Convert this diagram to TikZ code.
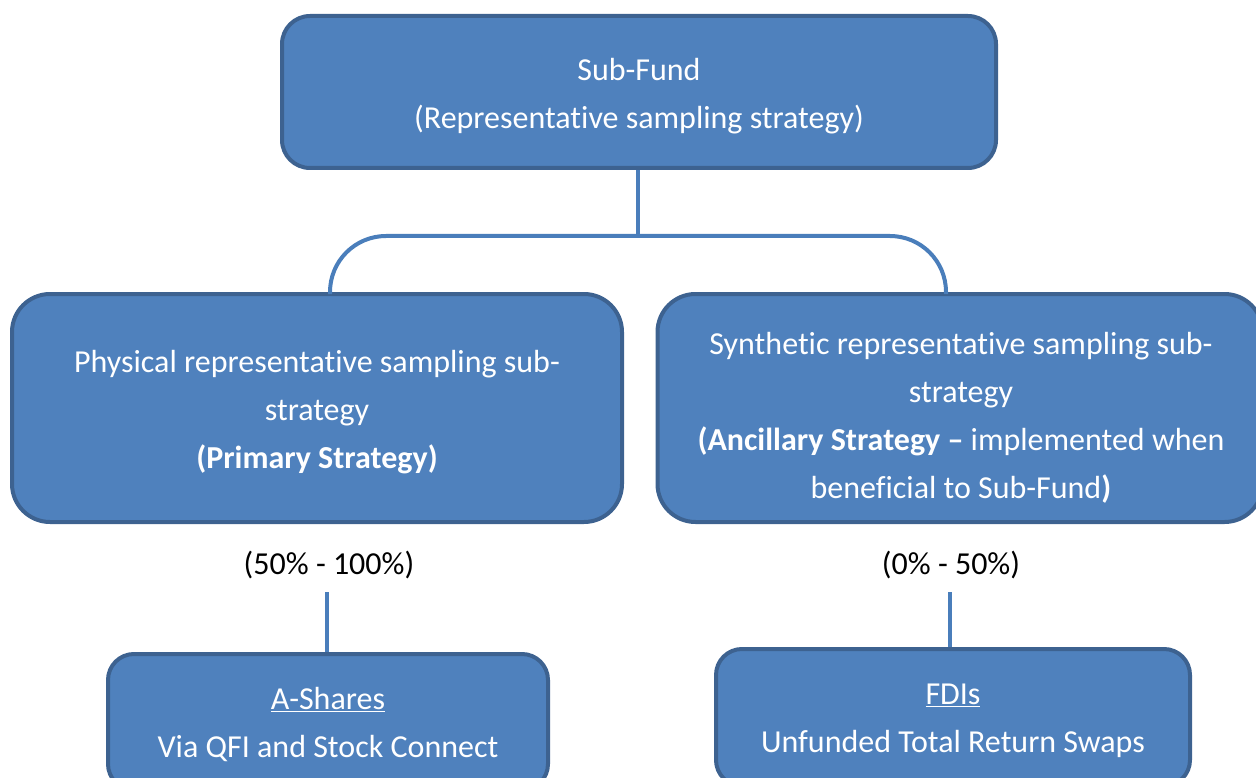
\documentclass[tikz,border=0pt]{standalone}
\usepackage{fontspec}
\setmainfont{Carlito}[Ligatures=NoCommon]
\definecolor{boxfill}{HTML}{4F81BD}
\definecolor{boxline}{HTML}{3D6290}
\definecolor{connline}{HTML}{4A7EBB}
\tikzset{
  box/.style={draw=boxline, line width=4pt, fill=boxfill, inner sep=0pt},
  boxtext/.style={text=white, align=center, font=\fontsize{32}{48}\selectfont, inner sep=0pt},
  conn/.style={draw=connline, line width=4pt},
  pct/.style={text=black, font=\fontsize{32}{36}\selectfont, inner sep=0pt}
}
\begin{document}
\begin{tikzpicture}[x=1pt,y=-1pt]
\useasboundingbox (0,0) rectangle (1256,778);
\node[box, rounded corners=28pt, minimum width=714pt, minimum height=152pt] (top) at (639,92) {};
\node[boxtext] (topt) at (639,96) {Sub-Fund\\(Representative sampling strategy)};
\node[box, rounded corners=38pt, minimum width=610pt, minimum height=228pt] (left) at (317,408) {};
\node[boxtext] (leftt) at (317,412.5)
  {Physical representative sampling sub-\\strategy\\\textbf{(Primary Strategy)}};
\node[box, rounded corners=38pt, minimum width=605pt, minimum height=228pt] (right) at (960,408) {};
\node[boxtext] (rightt) at (961,418)
  {Synthetic representative sampling sub-\\strategy\\\textbf{(Ancillary Strategy --} implemented when\\beneficial to Sub-Fund\textbf{)}};
\node[box, rounded corners=26pt, minimum width=440pt, minimum height=136pt] (bl) at (328,722) {};
\node[boxtext] (blt) at (328,725) {\underline{A-Shares}\\Via QFI and Stock Connect};
\node[box, rounded corners=26pt, minimum width=474pt, minimum height=137pt] (br) at (953,717.5) {};
\node[boxtext] (brt) at (953,720.5) {\underline{FDIs}\\Unfunded Total Return Swaps};
\node[pct] (pl) at (329,565) {(50\% - 100\%)};
\node[pct] (pr) at (951,565) {(0\% - 50\%)};
\coordinate (j) at (638,236);
\coordinate (la) at (330,294);
\coordinate (ra) at (946,294);
\coordinate (lb) at (327,592);
\coordinate (rb) at (950,592);
\draw[conn] (top.south -| j) -- (j);
\draw[conn, rounded corners=56pt] (la) |- (j) -| (ra);
\draw[conn] (lb) -- (lb |- bl.north);
\draw[conn] (rb) -- (rb |- br.north);
\end{tikzpicture}
\end{document}
